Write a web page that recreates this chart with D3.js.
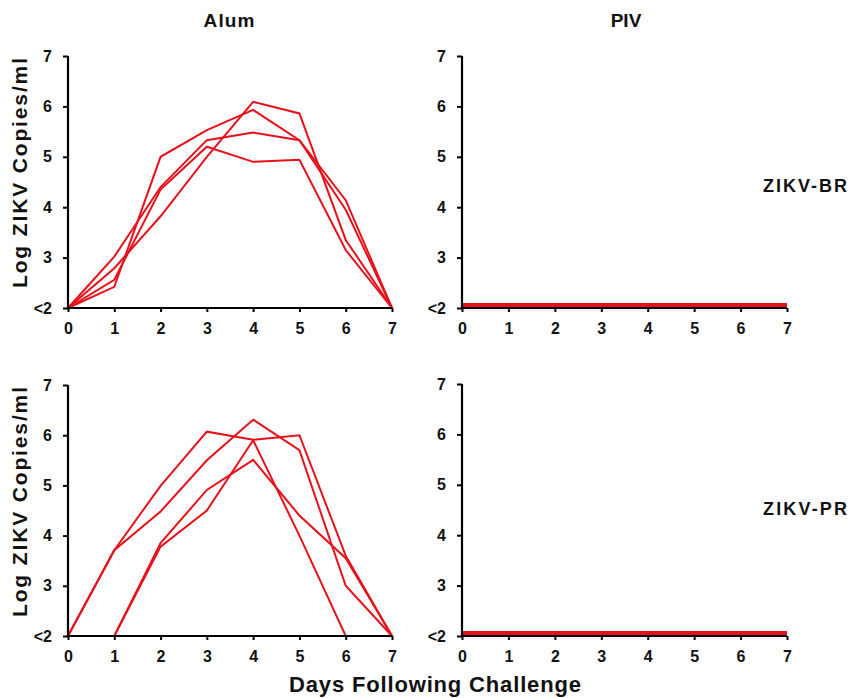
<!DOCTYPE html>
<html><head><meta charset="utf-8">
<script src="https://cdn.jsdelivr.net/npm/d3@7"></script>
<style>body{margin:0;background:#fff}svg{display:block}text{font-family:"Liberation Sans",Arial,sans-serif;font-weight:bold;fill:#111}</style>
</head><body>
<svg id="c" width="852" height="698"></svg>
<script>
const days = [0,1,2,3,4,5,6,7];
const yTicks = [2,3,4,5,6,7];
const yTickLabels = ["<2","3","4","5","6","7"];
const columns = ["Alum","PIV"];
const rows = ["ZIKV-BR","ZIKV-PR"];
// Alum, ZIKV-BR (four animals)
const alumBR1 = [2, 3.02, 4.40, 5.33, 5.48, 5.33, 3.95, 2];
const alumBR2 = [2, 2.79, 3.82, 5.00, 6.09, 5.86, 3.35, 2];
const alumBR3 = [2, 2.56, 4.35, 5.20, 4.90, 4.94, 3.15, 2];
const alumBR4 = [2, 2.42, 5.00, 5.53, 5.93, 5.33, 4.14, 2];
// Alum, ZIKV-PR
const alumPR1 = [2, 3.71, 4.99, 6.07, 5.91, 6.00, 3.60, 2];
const alumPR2 = [2, 3.71, 4.48, 5.50, 6.31, 5.70, 3.00, 2];
const alumPR3 = [2, 2, 3.85, 4.91, 5.51, 4.40, 3.55, 2];
const alumPR4 = [2, 2, 3.78, 4.50, 5.90, 4.00, 2, 2];
// PIV: all below detection limit
const pivBR1 = [2,2,2,2,2,2,2,2], pivBR2 = [2,2,2,2,2,2,2,2], pivBR3 = [2,2,2,2,2,2,2,2], pivBR4 = [2,2,2,2,2,2,2,2];
const pivPR1 = [2,2,2,2,2,2,2,2], pivPR2 = [2,2,2,2,2,2,2,2], pivPR3 = [2,2,2,2,2,2,2,2], pivPR4 = [2,2,2,2,2,2,2,2];

const panels = [
  {series:[alumBR1,alumBR2,alumBR3,alumBR4],x0:68,x1:392,y0:308,y1:56},
  {series:[pivBR1,pivBR2,pivBR3,pivBR4],x0:462,x1:787,y0:308,y1:56,thick:true},
  {series:[alumPR1,alumPR2,alumPR3,alumPR4],x0:68,x1:392,y0:636,y1:385},
  {series:[pivPR1,pivPR2,pivPR3,pivPR4],x0:462,x1:787,y0:636,y1:384,thick:true}
];
const svg = d3.select("#c");
const red = "#e8101a";

panels.forEach(p => {
  const x = d3.scaleLinear().domain([0,7]).range([p.x0,p.x1]);
  const y = d3.scaleLinear().domain([2,7]).range([p.y0,p.y1]);
  const g = svg.append("g");
  const line = d3.line().x((d,i)=>x(days[i])).y(d=>y(d));
  const lg = g.append("g").attr("transform", p.thick ? "translate(0,-2.5)" : null);
  p.series.forEach(s => {
    lg.append("path").datum(s).attr("d", line)
      .attr("fill","none").attr("stroke",red)
      .attr("stroke-width", p.thick ? 5 : 2).attr("stroke-linejoin","miter");
  });
  const ya = g.append("g").attr("transform",`translate(${p.x0},0)`)
    .call(d3.axisLeft(y).tickValues(yTicks).tickFormat((d,i)=>yTickLabels[i]).tickSize(5).tickPadding(11));
  const xa = g.append("g").attr("transform",`translate(0,${p.y0})`)
    .call(d3.axisBottom(x).tickValues(days).tickFormat(d3.format("d")).tickSize(4).tickPadding(11));
  [ya,xa].forEach(a=>{
    a.attr("font-size",null);
    a.select(".domain").attr("stroke","#000").attr("stroke-width",2.2);
    a.selectAll(".tick line").attr("stroke","#000").attr("stroke-width",2);
    a.selectAll(".tick text").attr("font-size",16).style("font-size","16px").style("font-family","Liberation Sans, Arial, sans-serif").style("font-weight","bold").attr("fill","#111");
  });
  ya.select(".domain").attr("d",`M0,${p.y0}V${p.y1}`);
  xa.select(".domain").attr("d",`M${p.x0},0H${p.x1}`);
});

// column titles
svg.append("text").attr("x",229).attr("y",27).attr("text-anchor","middle").style("font-size","19px").attr("textLength",51).text(columns[0]);
svg.append("text").attr("x",626).attr("y",27).attr("text-anchor","middle").style("font-size","19px").text(columns[1]);
// row labels
svg.append("text").attr("x",805).attr("y",192).attr("text-anchor","middle").style("font-size","18px").attr("textLength",84).text(rows[0]);
svg.append("text").attr("x",805).attr("y",515).attr("text-anchor","middle").style("font-size","18px").attr("textLength",84).text(rows[1]);
// y axis titles
[173,502].forEach(cy=>{
  svg.append("text").attr("transform",`translate(27,${cy}) rotate(-90)`).attr("text-anchor","middle").style("font-size","21px").attr("textLength",230).text("Log ZIKV Copies/ml");
});
svg.append("text").attr("x",435).attr("y",692).attr("text-anchor","middle").style("font-size","22px").attr("textLength",292).text("Days Following Challenge");
</script>
</body></html>
